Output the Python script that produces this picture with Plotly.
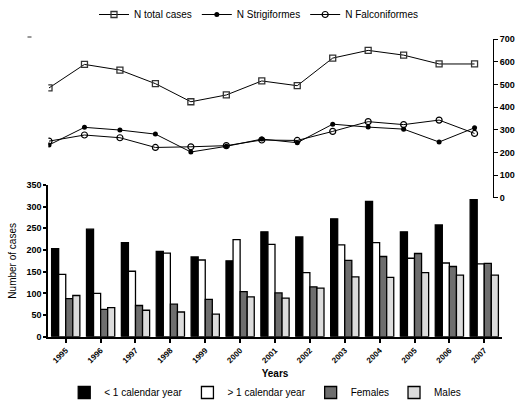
import plotly.graph_objects as go

years = [str(y) for y in range(1995, 2008)]

# Bar series (left axis, bottom panel)
under1 = [203, 248, 217, 197, 184, 175, 242, 230, 272, 312, 242, 258, 316]
over1 = [144, 100, 151, 193, 177, 224, 213, 148, 212, 217, 181, 170, 168]
females = [88, 63, 72, 75, 86, 104, 101, 115, 176, 185, 192, 162, 169]
males = [95, 67, 61, 57, 52, 92, 89, 112, 138, 137, 148, 142, 142]

# Line series (right axis, top panel)
total = [485, 589, 564, 504, 424, 454, 516, 495, 617, 651, 630, 591, 591]
strig = [233, 311, 299, 281, 202, 227, 259, 243, 325, 312, 303, 246, 309]
falco = [250, 277, 265, 222, 225, 230, 255, 253, 293, 336, 323, 343, 284]

W, H = 517, 407
def fx(px):
    return px / W
def fy(py):
    return 1 - py / H

fig = go.Figure()

bar_specs = [
    ("< 1 calendar year", under1, "#000000"),
    ("> 1 calendar year", over1, "#ffffff"),
    ("Females", females, "#6e6e6e"),
    ("Males", males, "#dcdcdc"),
]
for name, vals, col in bar_specs:
    fig.add_trace(go.Bar(
        x=years, y=vals, name=name, xaxis="x", yaxis="y",
        marker=dict(color=col, line=dict(color="#000000", width=1.3)),
        legend="legend2",
    ))

line_specs = [
    ("N total cases", total, dict(symbol="square-open", size=6, color="#333333", line=dict(width=1.3))),
    ("N Strigiformes", strig, dict(symbol="circle", size=5, color="#000000")),
    ("N Falconiformes", falco, dict(symbol="circle-open", size=6, color="#000000", line=dict(width=1.2))),
]
for name, vals, mk in line_specs:
    fig.add_trace(go.Scatter(
        x=list(range(len(years))), y=vals, name=name, xaxis="x2", yaxis="y2",
        mode="lines+markers", line=dict(color="#000000", width=1),
        marker=mk, legend="legend",
    ))

FONT = "Liberation Sans, Arial, sans-serif"

fig.update_layout(
    width=W, height=H,
    margin=dict(l=0, r=0, t=0, b=0, autoexpand=False),
    paper_bgcolor="white", plot_bgcolor="rgba(0,0,0,0)",
    font=dict(family=FONT, size=10, color="#000000"),
    barmode="group", bargap=0.19, bargroupgap=0.0,
    showlegend=True,
    xaxis=dict(
        domain=[fx(48.3), fx(501.7)], anchor="y", type="category",
        range=[-0.5, 12.5],
        showline=True, linecolor="#000000", linewidth=2,
        ticks="outside", ticklen=4, tickwidth=1.5, tickcolor="#000000",
        tickangle=-45, tickfont=dict(family=FONT, size=8, color="#000000", weight="bold"),
        showgrid=False, zeroline=False,
        title=dict(text="<b>Years</b>", font=dict(size=10), standoff=6),
    ),
    yaxis=dict(
        domain=[fy(336.7), fy(185)], anchor="x",
        range=[0, 350], tickvals=[0, 50, 100, 150, 200, 250, 300, 350],
        showline=True, linecolor="#000000", linewidth=2,
        ticks="outside", ticklen=3, tickwidth=1.5, tickcolor="#000000",
        tickfont=dict(family=FONT, size=9, color="#000000", weight="bold"),
        showgrid=False, zeroline=False,
        title=dict(text="Number of cases", font=dict(size=10), standoff=8),
    ),
    xaxis2=dict(
        domain=[fx(48.3), fx(493)], anchor="y2",
        range=[-0.02, 12.52], visible=False, showgrid=False, zeroline=False,
    ),
    yaxis2=dict(
        domain=[fy(197.7), fy(39.3)], anchor="x2", side="right",
        range=[0, 700], tickvals=[0, 100, 200, 300, 400, 500, 600, 700],
        showline=True, linecolor="#000000", linewidth=1,
        ticks="outside", ticklen=4, tickwidth=1, tickcolor="#000000",
        tickfont=dict(family=FONT, size=9, color="#000000", weight="bold"),
        showgrid=False, zeroline=False,
    ),
    legend=dict(
        orientation="h", x=0.5, xanchor="center", y=1.0, yanchor="top",
        font=dict(size=10), itemwidth=30, tracegroupgap=0,
        bgcolor="rgba(0,0,0,0)",
    ),
    legend2=dict(
        orientation="h", x=0.513, xanchor="center", y=0.0, yanchor="bottom",
        font=dict(size=10), itemwidth=30, traceorder="normal",
        bgcolor="rgba(0,0,0,0)",
    ),
)

# tiny remnant mark at top-left of the upper panel
fig.add_shape(type="line", xref="paper", yref="paper",
              x0=fx(27.5), x1=fx(31.5), y0=fy(37), y1=fy(37),
              line=dict(color="#333333", width=1))

fig.write_html(
    "out.html",
    config={"displayModeBar": False},
    post_script="document.body.style.margin='0px';document.body.style.overflow='hidden';",
)
